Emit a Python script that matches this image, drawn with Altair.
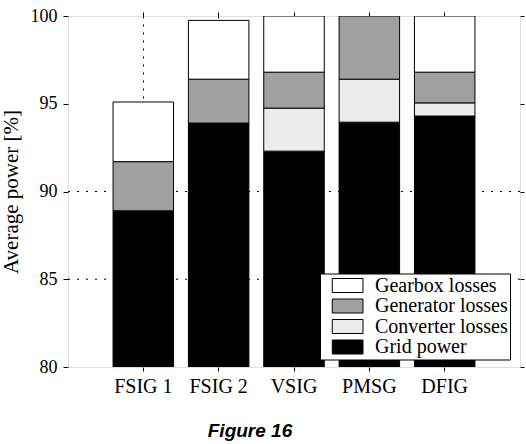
import altair as alt
import pandas as pd

# Generator concepts and the energy breakdown of each (percent of available power)
concepts = ["FSIG 1", "FSIG 2", "VSIG", "PMSG", "DFIG"]
grid_power = [88.9, 93.9, 92.3, 93.95, 94.3]
converter_losses = [0.0, 0.0, 2.45, 2.45, 0.75]
generator_losses = [2.8, 2.5, 2.05, 3.6, 1.75]
gearbox_losses = [3.4, 3.35, 3.2, 0.0, 3.2]

components = ["Gearbox losses", "Generator losses", "Converter losses", "Grid power"]
component_colors = ["#ffffff", "#a0a0a0", "#ececec", "#000000"]
grid_levels = [85, 90]

series = {
    "Grid power": grid_power,
    "Converter losses": converter_losses,
    "Generator losses": generator_losses,
    "Gearbox losses": gearbox_losses,
}
stack_rank = {"Grid power": 0, "Converter losses": 1, "Generator losses": 2, "Gearbox losses": 3}

rows = []
for name, values in series.items():
    for concept, v in zip(concepts, values):
        rows.append({"concept": concept, "component": name, "value": v, "rank": stack_rank[name]})
df = pd.DataFrame(rows)

serif = "Liberation Serif"

x_scale = alt.Scale(domain=concepts, paddingInner=0.197, paddingOuter=0.598)
y_scale = alt.Scale(domain=[80, 100], nice=False, zero=False)

# dotted horizontal reference lines, carrying the mirrored right-hand axis
hgrid = alt.Chart(pd.DataFrame({"level": grid_levels})).mark_rule(
    color="black", strokeWidth=1, strokeDash=[2, 7]
).encode(
    y=alt.Y("level:Q", scale=y_scale,
            axis=alt.Axis(orient="right", labels=False, title=None, domain=False,
                          values=[80, 85, 90, 95, 100], tickSize=4, tickColor="black",
                          grid=False))
)

# mirrored top axis with dotted vertical grid behind the bars
top_axis = alt.Chart(df).mark_point(opacity=0).encode(
    x=alt.X("concept:N", scale=x_scale, sort=concepts,
            axis=alt.Axis(orient="top", labels=False, title=None, domain=False,
                          tickSize=4, tickColor="black", grid=True,
                          gridColor="black", gridDash=[2, 6], gridOpacity=1)),
)

bars = alt.Chart(df).transform_filter(
    alt.datum.value > 0
).mark_bar(stroke="black", strokeWidth=1, clip=True).encode(
    x=alt.X("concept:N", scale=x_scale, sort=concepts,
            axis=alt.Axis(orient="bottom", title=None, labelAngle=0, domain=False,
                          labelFont=serif, labelFontSize=20, labelColor="black",
                          tickSize=4, tickColor="black", labelPadding=5)),
    y=alt.Y("sum(value):Q", scale=y_scale, stack="zero",
            axis=alt.Axis(orient="left", title="Average power [%]", values=[80, 85, 90, 95, 100],
                          domain=False, grid=False, tickSize=5, tickColor="black",
                          labelFont=serif, labelFontSize=18, labelColor="black", labelPadding=6,
                          titleFont=serif, titleFontSize=21, titleFontWeight="normal",
                          titleColor="black", titleX=-57, titleY=175.5,
                          titleBaseline="middle")),
    color=alt.Color("component:N",
                    scale=alt.Scale(domain=components, range=component_colors),
                    legend=alt.Legend(
                        title=None, orient="none", legendX=252, legendY=257.5,
                        symbolType="M0.04,-1 L4.43,-1 L4.43,1 L0.04,1 Z",
                        symbolSize=196, symbolStrokeColor="black", symbolStrokeWidth=1,
                        symbolOpacity=1, labelFont=serif, labelFontSize=20,
                        labelColor="black", labelOffset=33, padding=2, rowPadding=0.5,
                        strokeColor="black", fillColor="white", labelLimit=300)),
    order=alt.Order("rank:Q", sort="ascending"),
)

chart = alt.layer(hgrid, top_axis, bars).resolve_axis(
    x="independent", y="independent"
).properties(
    width=452,
    height=351,
    autosize=alt.AutoSizeParams(type="none"),
    padding={"left": 68, "top": 16, "right": 6, "bottom": 77},
    title=alt.TitleParams("Figure 16", orient="bottom", anchor="middle", dx=-44, offset=26,
                          font="Liberation Sans", fontSize=19, fontWeight="bold",
                          fontStyle="italic", color="black"),
).configure_view(
    stroke="black", strokeWidth=1
).configure(background="white")

chart.save("out.html", embed_options={"renderer": "svg", "actions": False})
